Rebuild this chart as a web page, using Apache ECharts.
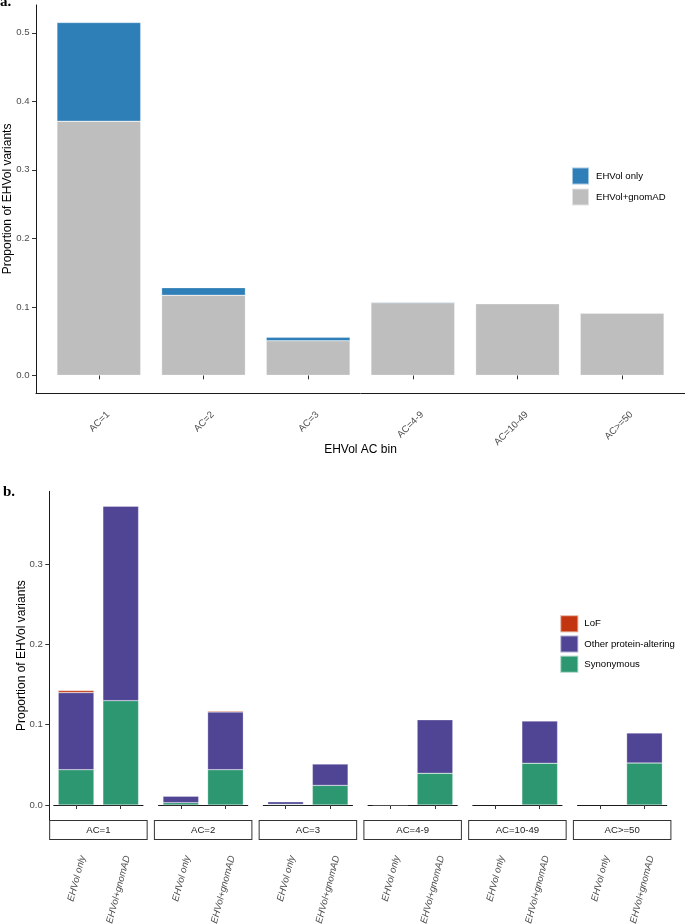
<!DOCTYPE html>
<html>
<head>
<meta charset="utf-8">
<script src="https://cdn.jsdelivr.net/npm/echarts@6/dist/echarts.min.js"></script>
<style>html,body{margin:0;padding:0;background:#fff}#c{width:685px;height:924px}</style>
</head>
<body>
<div id="c"></div>
<script>
// ---- data ----
const acBins = ['AC=1', 'AC=2', 'AC=3', 'AC=4-9', 'AC=10-49', 'AC>=50'];
const groups = ['EHVol only', 'EHVol+gnomAD'];
const yTicksA = [0, 0.1, 0.2, 0.3, 0.4, 0.5];
const yTicksB = [0, 0.1, 0.2, 0.3];
// panel a: proportion of EHVol variants per AC bin
const sharedA = [0.371, 0.117, 0.0505, 0.106, 0.1045, 0.0905];   // EHVol+gnomAD
const onlyA   = [0.144, 0.011, 0.005, 0.001, 0, 0];               // EHVol only
// panel b: consequence split, [EHVol only, EHVol+gnomAD] per bin
const synOnly     = [0.044, 0.003, 0.001, 0.0003, 0, 0];
const otherOnly   = [0.096, 0.008, 0.003, 0.0008, 0, 0];
const lofOnly     = [0.0025, 0, 0, 0, 0, 0];
const synShared   = [0.130, 0.044, 0.0245, 0.0395, 0.052, 0.0523];
const otherShared = [0.242, 0.072, 0.0265, 0.0667, 0.0526, 0.0374];
const lofShared   = [0, 0.0012, 0, 0, 0, 0];

// ---- styling ----
const C_ONLY = '#2E7EB8', C_SHARED = '#BEBEBE';
const C_LOF = '#C2350F', C_OTHER = '#4F4594', C_SYN = '#2C9770';
const FONT = 'Liberation Sans, Arial, sans-serif';
const nz = v => (v === 0 ? null : v);
const barBorder = { borderColor: 'rgba(255,255,255,0.55)', borderWidth: 0.5 };
const noBounds = { outerBoundsMode: 'none', containLabel: false };

const grid = [], xAxis = [], yAxis = [], series = [];

// Panel a frame (axis lines spanning the full panel)
grid.push(Object.assign({ left: 36, right: 0, top: 4.9, bottom: 924 - 393 }, noBounds));
xAxis.push({ gridIndex: 0, type: 'value', min: 0, max: 1, axisLine: { show: true, lineStyle: { color: '#1a1a1a', width: 1 } }, axisTick: { show: false }, axisLabel: { show: false }, splitLine: { show: false } });
yAxis.push({ gridIndex: 0, type: 'value', min: 0, max: 1, axisLine: { show: true, lineStyle: { color: '#1a1a1a', width: 1 } }, axisTick: { show: false }, axisLabel: { show: false }, splitLine: { show: false } });

// Panel a main grid
grid.push(Object.assign({ left: 46.5, right: 10.5, top: 4.9, bottom: 924 - 393 }, noBounds));
xAxis.push({
  gridIndex: 1, type: 'category', data: acBins,
  name: 'EHVol AC bin', nameLocation: 'middle', nameGap: 51, nameMoveOverlap: false,
  nameTextStyle: { fontFamily: FONT, fontSize: 12, color: '#000' },
  axisLine: { show: false },
  axisTick: { show: true, alignWithLabel: true, length: 4, lineStyle: { color: '#333' } },
  axisLabel: { rotate: 45, fontFamily: FONT, fontSize: 9.6, color: '#4d4d4d', margin: 11, interval: 0,
               align: 'right', verticalAlign: 'top', padding: [8, 0, 0, 0] }
});
yAxis.push({
  gridIndex: 1, type: 'value', min: -0.02575, max: 0.54075, offset: 10.5,
  name: 'Proportion of EHVol variants', nameLocation: 'middle', nameGap: 22, nameMoveOverlap: false,
  nameTextStyle: { fontFamily: FONT, fontSize: 12, color: '#000' },
  axisLine: { show: false },
  axisTick: { show: true, length: 4, customValues: yTicksA, lineStyle: { color: '#333' } },
  axisLabel: { customValues: yTicksA, formatter: v => v.toFixed(1), fontFamily: FONT, fontSize: 9.6, color: '#4d4d4d', margin: 6.5 },
  splitLine: { show: false }
});
series.push({ name: 'EHVol+gnomAD', type: 'bar', xAxisIndex: 1, yAxisIndex: 1, stack: 'a', barWidth: '80%', data: sharedA.map(nz), itemStyle: Object.assign({ color: C_SHARED }, barBorder) });
series.push({ name: 'EHVol only', type: 'bar', xAxisIndex: 1, yAxisIndex: 1, stack: 'a', barWidth: '80%', data: onlyA.map(nz), itemStyle: Object.assign({ color: C_ONLY }, barBorder) });

// Panel b facets
const facetLeft0 = 49.3, facetStep = 104.75, facetW = 98.2, inset = 0.1 * facetW / 2.2;
const topB = 491.3, bottomB = 924 - 820;
acBins.forEach((bin, i) => {
  const gi = grid.length;
  const left = facetLeft0 + i * facetStep + inset;
  grid.push(Object.assign({ left: left, width: facetW - 2 * inset, top: topB, bottom: bottomB }, noBounds));
  const xi = xAxis.length;
  xAxis.push({
    gridIndex: gi, type: 'category', data: groups, position: 'bottom', offset: 20,
    axisLine: { show: true, lineStyle: { color: '#1a1a1a', width: 1 } },
    axisTick: { show: true, alignWithLabel: true, length: 4, lineStyle: { color: '#333' } },
    axisLabel: { rotate: 75, interval: 0, fontFamily: FONT, fontStyle: 'italic', fontSize: 9.6, color: '#4d4d4d', margin: 14,
                 align: 'right', verticalAlign: 'top', padding: [2, 0, 0, 0] }
  });
  // strip
  xAxis.push({
    gridIndex: gi, type: 'category', data: [bin], position: 'bottom', offset: 0,
    axisLine: { show: false }, axisTick: { show: false },
    axisLabel: {
      interval: 0, margin: 1, fontFamily: FONT, fontSize: 9.6, color: '#1a1a1a',
      width: 96.5, height: 18, lineHeight: 18, align: 'center', verticalAlign: 'top',
      backgroundColor: '#fff', borderColor: '#333', borderWidth: 1
    }
  });
  const yi = yAxis.length;
  yAxis.push(i === 0 ? {
    gridIndex: gi, type: 'value', min: -0.0186, max: 0.3906, offset: inset,
    name: 'Proportion of EHVol variants', nameLocation: 'middle', nameGap: 22, nameMoveOverlap: false,
    nameTextStyle: { fontFamily: FONT, fontSize: 12, color: '#000' },
    axisLine: { show: true, lineStyle: { color: '#1a1a1a', width: 1 } },
    axisTick: { show: true, length: 4, customValues: yTicksB, lineStyle: { color: '#333' } },
    axisLabel: { customValues: yTicksB, formatter: v => v.toFixed(1), fontFamily: FONT, fontSize: 9.6, color: '#4d4d4d', margin: 6.5 },
    splitLine: { show: false }
  } : { gridIndex: gi, type: 'value', min: -0.0186, max: 0.3906, show: false, splitLine: { show: false } });
  const mk = (name, a, b, color) => ({
    name: name, type: 'bar', xAxisIndex: xi, yAxisIndex: yi, stack: 'b' + i, barWidth: '80%',
    data: [nz(a[i]), nz(b[i])], itemStyle: Object.assign({ color: color }, barBorder)
  });
  series.push(mk('Synonymous', synOnly, synShared, C_SYN));
  series.push(mk('Other protein-altering', otherOnly, otherShared, C_OTHER));
  series.push(mk('LoF', lofOnly, lofShared, C_LOF));
});

const option = {
  backgroundColor: '#fff',
  animation: false,
  title: [
    { text: 'a.', left: 0, top: -5, padding: 0, textStyle: { fontFamily: 'Liberation Serif, Times New Roman, serif', fontWeight: 'bold', fontSize: 15, color: '#000' } },
    { text: 'b.', left: 3, top: 485, padding: 0, textStyle: { fontFamily: 'Liberation Serif, Times New Roman, serif', fontWeight: 'bold', fontSize: 15, color: '#000' } }
  ],
  legend: [
    { data: ['EHVol only', 'EHVol+gnomAD'], orient: 'vertical', left: 571, top: 166.5, padding: 0,
      itemWidth: 17, itemHeight: 17, itemGap: 2, icon: 'rect',
      textStyle: { fontFamily: FONT, fontSize: 9.6, color: '#000', padding: [0, 0, 0, 2] } },
    { data: ['LoF', 'Other protein-altering', 'Synonymous'], orient: 'vertical', left: 559.3, top: 614.3, padding: 0,
      itemWidth: 18, itemHeight: 17, itemGap: 1.2, icon: 'rect',
      textStyle: { fontFamily: FONT, fontSize: 9.6, color: '#000', padding: [0, 0, 0, 1] } }
  ],
  grid: grid, xAxis: xAxis, yAxis: yAxis, series: series
};
const chart = echarts.init(document.getElementById('c'), null, { renderer: 'canvas' });
chart.setOption(option);
</script>
</body>
</html>
